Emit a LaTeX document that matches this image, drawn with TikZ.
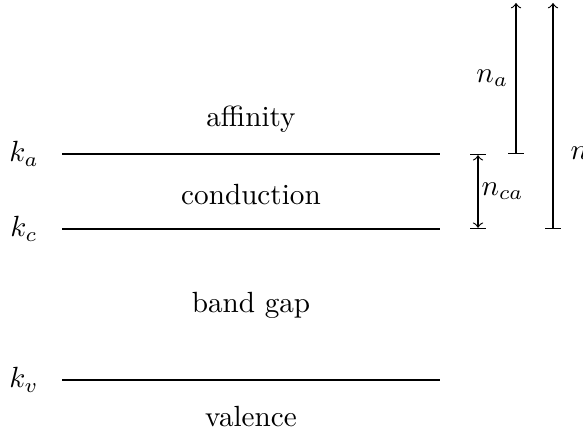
\documentclass[tikz,border=0pt]{standalone}
\begin{document}
\begin{tikzpicture}[x=0.3425pt, y=0.3425pt]
\useasboundingbox (0,0) rectangle (583,437);
% band levels: name/height/label
\foreach \n/\h/\t in {ka/283/k_a,kc/208/k_c,kv/57/k_v} {
  \coordinate (\n-l) at (62,\h);
  \coordinate (\n-r) at (440,\h);
  \draw (\n-l) -- (\n-r);
  \node (\n-label) at (24,\h) {$\t$};
}
% region names
\foreach \n/\h/\t in {aff/310/affinity,cond/232/conduction,gap/124/band gap,val/10/valence}
  \node[anchor=base] (\n) at (251,\h) {\t};
% distances
\coordinate (na-bot) at (516,283);
\coordinate (na-top) at (516,434);
\draw[|->] (na-bot) -- (na-top) node[midway, left, inner sep=2.5pt] (na-label) {$n_a$};
\coordinate (nca-bot) at (478,208);
\coordinate (nca-top) at (478,283);
\draw[|<->|] (nca-bot) -- (nca-top) node[midway, right, inner sep=1pt] (nca-label) {$n_{ca}$};
\coordinate (n-bot) at (553,208);
\coordinate (n-top) at (553,434);
\draw[|->] (n-bot) -- (n-top);
\node[anchor=west, inner sep=0pt] (n-label) at (570,284) {$n$};
\end{tikzpicture}
\end{document}
